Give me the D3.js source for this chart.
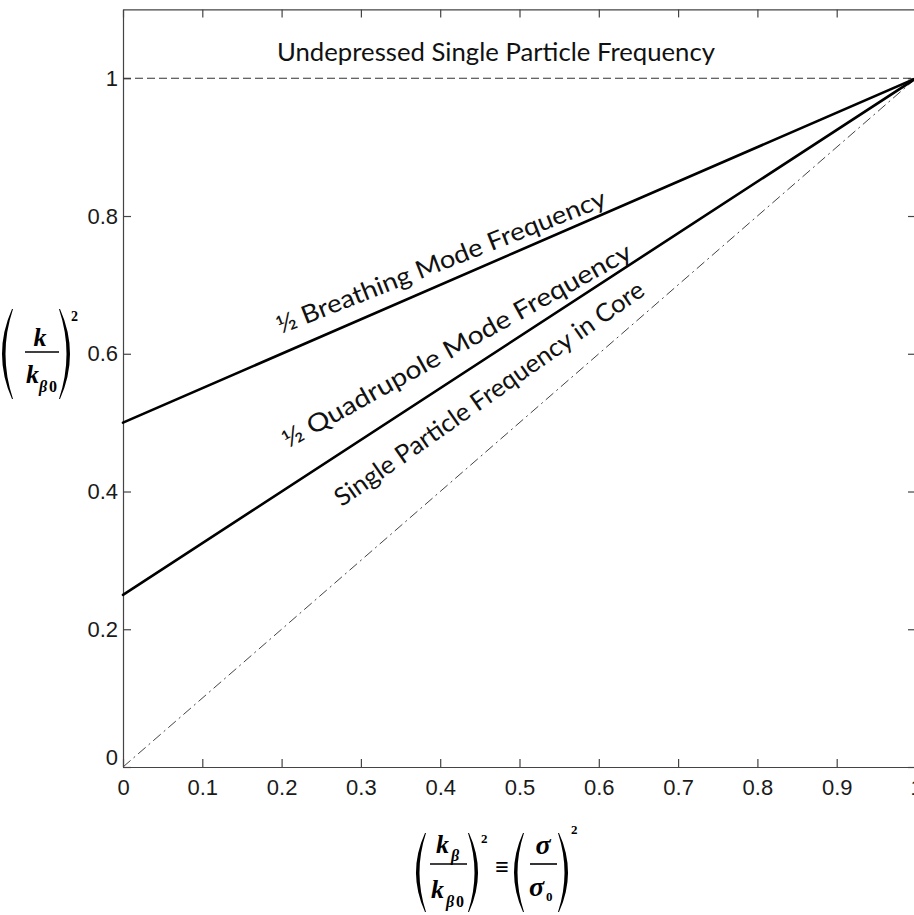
<!DOCTYPE html>
<html>
<head>
<meta charset="utf-8">
<script src="https://cdn.jsdelivr.net/npm/d3@7"></script>
<style>
  body { margin: 0; background: #fff; }
  svg { display: block; }
</style>
</head>
<body>
<div id="chart"></div>
<script>
// ticks on both axes
var xTicks = [0, 0.1, 0.2, 0.3, 0.4, 0.5, 0.6, 0.7, 0.8, 0.9, 1];
var yTicks = [0, 0.2, 0.4, 0.6, 0.8, 1];

// the four frequency curves, as (sigma/sigma0)^2 -> (k/kb0)^2
var breathing   = [[0, 0.5], [1, 1]];
var quadrupole  = [[0, 0.25], [1, 1]];
var coreLine    = [[0, 0], [1, 1]];
var undepressed = [[0, 1], [1, 1]];

// curve labels: text, anchor (data coords, baseline centre), tilt in degrees
var labelNames  = ['\u00BD Breathing Mode Frequency', '\u00BD Quadrupole Mode Frequency', 'Single Particle Frequency in Core'];
var labelAnchor = [[0.405, 0.722], [0.426, 0.601], [0.468, 0.532]];
var labelTilt   = [21.5, 29, 35];
var titleText   = 'Undepressed Single Particle Frequency';

var width = 914, height = 915;

var x = d3.scaleLinear().domain([0, 1]).range([123, 916]);
var y = d3.scaleLinear().domain([0, 1.1]).range([767, 9.4]);

var svg = d3.select('#chart').append('svg')
  .attr('width', width)
  .attr('height', height);

// frame + ticks, matlab style (ticks point inward on every side)
var tickFont = '"Liberation Sans", Arial, sans-serif';

var gx = svg.append('g').attr('transform', 'translate(0,' + y(0) + ')')
  .call(d3.axisBottom(x).tickValues(xTicks).tickSizeInner(-8).tickSizeOuter(0).tickPadding(12)
    .tickFormat(function (d) { return d3.format('~g')(d); }));
var gxt = svg.append('g').attr('transform', 'translate(0,' + y(1.1) + ')')
  .call(d3.axisTop(x).tickValues(xTicks).tickSizeInner(-8).tickSizeOuter(0).tickFormat(''));
var gy = svg.append('g').attr('transform', 'translate(' + x(0) + ',0)')
  .call(d3.axisLeft(y).tickValues(yTicks).tickSizeInner(-8).tickSizeOuter(0).tickPadding(5)
    .tickFormat(function (d) { return d3.format('~g')(d); }));
var gyr = svg.append('g').attr('transform', 'translate(' + x(1) + ',0)')
  .call(d3.axisRight(y).tickValues(yTicks).tickSizeInner(-8).tickSizeOuter(0).tickFormat(''));

[gx, gxt, gy, gyr].forEach(function (g) {
  g.select('.domain').attr('stroke', '#444').attr('stroke-width', 1.2);
  g.selectAll('.tick line').attr('stroke', '#444').attr('stroke-width', 1.2);
  g.selectAll('.tick text')
    .attr('fill', '#1a1a1a')
    .style('font-family', tickFont)
    .style('font-size', '22px');
});
// matlab nudges the corner zero up a bit
gy.selectAll('.tick text').filter(function (d) { return d === 0; }).attr('dy', '-0.1em');

// lines
var line = d3.line()
  .x(function (d) { return x(d[0]); })
  .y(function (d) { return y(d[1]); });

svg.append('path').datum(undepressed)
  .attr('d', line).attr('fill', 'none')
  .attr('stroke', '#333').attr('stroke-width', 1.2)
  .attr('stroke-dasharray', '8,4');

svg.append('path').datum(coreLine)
  .attr('d', line).attr('fill', 'none')
  .attr('stroke', '#444').attr('stroke-width', 1)
  .attr('stroke-dasharray', '10,4,2,4');

[breathing, quadrupole].forEach(function (s) {
  svg.append('path').datum(s)
    .attr('d', line).attr('fill', 'none')
    .attr('stroke', '#000').attr('stroke-width', 2.6)
    .attr('stroke-linecap', 'round');
});

// labels (calibri-ish: squeeze Lato a little to keep its height)
var labelFont = 'Lato, "Open Sans", sans-serif';

svg.append('text')
  .attr('x', 496).attr('y', 61)
  .attr('text-anchor', 'middle')
  .attr('textLength', 438).attr('lengthAdjust', 'spacingAndGlyphs')
  .style('font-family', labelFont)
  .style('font-size', '25px')
  .attr('fill', '#111')
  .text(titleText);

var labelLen = [352, 395, 372];

labelNames.forEach(function (name, i) {
  var a = labelAnchor[i];
  svg.append('text')
    .attr('transform', 'translate(' + x(a[0]) + ',' + y(a[1]) + ') rotate(' + (-labelTilt[i]) + ')')
    .attr('text-anchor', 'middle')
    .attr('textLength', labelLen[i]).attr('lengthAdjust', 'spacingAndGlyphs')
    .style('font-family', labelFont)
    .style('font-size', '25px')
    .attr('fill', '#111')
    .text(name);
});

// math axis labels
var mathFont = '"Liberation Serif", "Times New Roman", serif';

function paren(g, x0, x1, top, bot, left) {
  var mid = (top + bot) / 2, th = 3;
  var p;
  if (left) {
    p = 'M' + x1 + ',' + top +
      'Q' + (2 * x0 - x1) + ',' + mid + ' ' + x1 + ',' + bot +
      'L' + (x1 + 1) + ',' + bot +
      'Q' + (2 * (x0 + th) - x1) + ',' + mid + ' ' + (x1 + 1) + ',' + top + 'Z';
  } else {
    p = 'M' + x0 + ',' + top +
      'Q' + (2 * x1 - x0) + ',' + mid + ' ' + x0 + ',' + bot +
      'L' + (x0 - 1) + ',' + bot +
      'Q' + (2 * (x1 - th) - x0) + ',' + mid + ' ' + (x0 - 1) + ',' + top + 'Z';
  }
  g.append('path').attr('d', p).attr('fill', '#000');
}

function mtext(g, tx, ty, str, size, italic, anchor) {
  return g.append('text')
    .attr('x', tx).attr('y', ty)
    .attr('text-anchor', anchor || 'start')
    .style('font-family', mathFont)
    .style('font-weight', 'bold')
    .style('font-style', italic ? 'italic' : 'normal')
    .style('font-size', size + 'px')
    .text(str);
}

function bar(g, x0, x1, yy) {
  g.append('line').attr('x1', x0).attr('x2', x1).attr('y1', yy).attr('y2', yy)
    .attr('stroke', '#000').attr('stroke-width', 1.6);
}

// y label: (k / k_beta0)^2
var yl = svg.append('g');
paren(yl, 2, 12, 309, 399, true);
paren(yl, 60, 70, 309, 399, false);
mtext(yl, 40, 346, 'k', 26, true, 'middle');
bar(yl, 25, 59, 352);
mtext(yl, 26, 383, 'k', 26, true);
mtext(yl, 39, 392, '\u03B2', 16, true);
mtext(yl, 49, 392, '0', 16, false);
mtext(yl, 71, 321, '2', 14, false);

// x label: (k_beta / k_beta0)^2 = (sigma / sigma0)^2
var xl = svg.append('g');
paren(xl, 416, 425, 833, 912, true);
mtext(xl, 436, 853, 'k', 26, true);
mtext(xl, 451, 861, '\u03B2', 16, true);
bar(xl, 430, 467, 864);
mtext(xl, 431, 898, 'k', 26, true);
mtext(xl, 446, 907, '\u03B2', 16, true);
mtext(xl, 456, 907, '0', 16, false);
paren(xl, 469, 478, 833, 912, false);
mtext(xl, 481, 843, '2', 13, false);
mtext(xl, 502, 875, '\u2261', 24, false, 'middle');
paren(xl, 514, 523, 833, 912, true);
mtext(xl, 543, 854, '\u03C3', 28, true, 'middle');
bar(xl, 530, 557, 864);
mtext(xl, 529, 896, '\u03C3', 28, true);
mtext(xl, 546, 901, '0', 13, false);
paren(xl, 559, 568, 833, 912, false);
mtext(xl, 571, 834, '2', 13, false);
</script>
</body>
</html>
